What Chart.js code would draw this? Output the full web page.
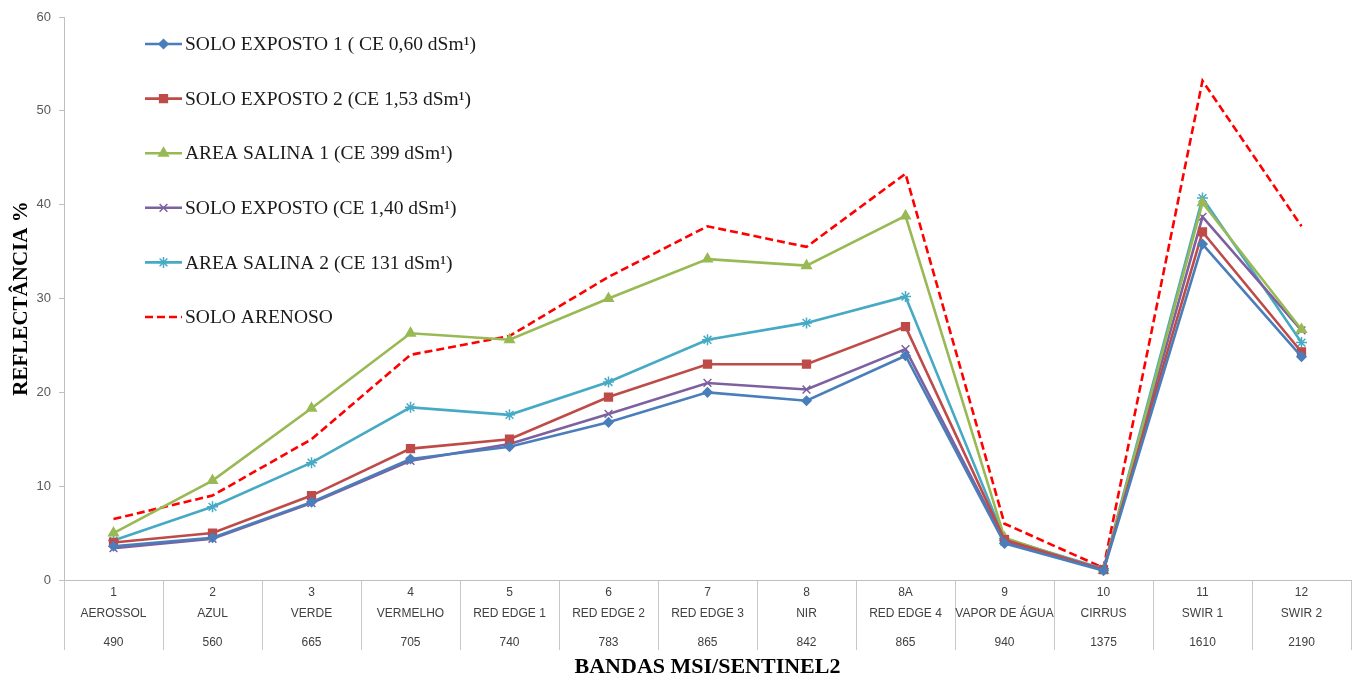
<!DOCTYPE html>
<html>
<head>
<meta charset="utf-8">
<script src="https://cdn.jsdelivr.net/npm/chart.js@4"></script>
<style>
  html, body { margin: 0; padding: 0; background: #ffffff; }
  #wrap { width: 1358px; height: 681px; }
</style>
</head>
<body>
<div id="wrap"><canvas id="c" width="1358" height="681"></canvas></div>
<script>
// Sentinel-2 MSI bands: number, name and wavelength (nm)
const bands = ['1', '2', '3', '4', '5', '6', '7', '8', '8A', '9', '10', '11', '12'];
const bandNames = ['AEROSSOL', 'AZUL', 'VERDE', 'VERMELHO', 'RED EDGE 1', 'RED EDGE 2', 'RED EDGE 3', 'NIR', 'RED EDGE 4', 'VAPOR DE ÁGUA', 'CIRRUS', 'SWIR 1', 'SWIR 2'];
const wavelengths = ['490', '560', '665', '705', '740', '783', '865', '842', '865', '940', '1375', '1610', '2190'];

// Reflectance (%) per band for each sample
const soloExposto1 = [3.6, 4.5, 8.3, 12.9, 14.2, 16.8, 20.0, 19.1, 23.9, 3.9, 1.0, 35.8, 23.8];
const soloExposto2 = [4.0, 5.0, 9.0, 14.0, 15.0, 19.5, 23.0, 23.0, 27.0, 4.3, 1.1, 37.1, 24.3];
const areaSalina1 = [5.0, 10.6, 18.3, 26.3, 25.6, 30.0, 34.2, 33.5, 38.8, 4.5, 1.0, 40.2, 26.7];
const soloExposto = [3.4, 4.4, 8.2, 12.7, 14.5, 17.7, 21.0, 20.3, 24.6, 4.1, 1.1, 38.7, 26.6];
const areaSalina2 = [4.2, 7.8, 12.5, 18.4, 17.6, 21.1, 25.6, 27.4, 30.2, 4.4, 1.2, 40.7, 25.3];
const soloArenoso = [6.5, 9.0, 15.0, 24.0, 26.0, 32.3, 37.7, 35.5, 43.3, 6.0, 1.3, 53.2, 37.7];

const yTicks = [0, 10, 20, 30, 40, 50, 60];

const seriesLabels = [
  'SOLO EXPOSTO 1 ( CE 0,60 dSm¹)',
  'SOLO EXPOSTO 2 (CE 1,53 dSm¹)',
  'AREA SALINA 1 (CE 399 dSm¹)',
  'SOLO EXPOSTO (CE 1,40 dSm¹)',
  'AREA SALINA 2 (CE 131 dSm¹)',
  'SOLO ARENOSO'
];

const tickFont = "'Liberation Sans Narrow', 'Liberation Sans', sans-serif";
const serif = "'Liberation Serif', 'Times New Roman', serif";

function series(label, data, color, style, radius, extra) {
  return Object.assign({
    label: label,
    data: data,
    borderColor: color,
    backgroundColor: color,
    pointBackgroundColor: color,
    pointBorderColor: color,
    borderWidth: 2.6,
    pointStyle: style,
    pointRadius: radius,
    pointBorderWidth: 1.5,
    tension: 0,
    fill: false
  }, extra || {});
}

// In-plot legend: line sample with its marker, then the label
const insideLegend = {
  id: 'insideLegend',
  afterDraw(chart) {
    const ctx = chart.ctx;
    const x0 = 145, x1 = 182, top = 44, step = 54.6;
    chart.data.datasets.forEach((ds, i) => {
      const y = top + i * step;
      ctx.save();
      ctx.strokeStyle = ds.borderColor;
      ctx.lineWidth = ds.borderWidth;
      ctx.setLineDash(ds.borderDash || []);
      ctx.beginPath();
      ctx.moveTo(x0, y);
      ctx.lineTo(x1, y);
      ctx.stroke();
      ctx.setLineDash([]);
      if (ds.pointRadius > 0) {
        ctx.fillStyle = ds.pointBackgroundColor;
        ctx.strokeStyle = ds.pointBorderColor;
        ctx.lineWidth = ds.pointBorderWidth;
        Chart.helpers.drawPoint(ctx, {
          pointStyle: ds.pointStyle, radius: ds.pointRadius, rotation: 0, borderWidth: ds.pointBorderWidth
        }, (x0 + x1) / 2, y);
      }
      ctx.fillStyle = '#1a1a1a';
      ctx.font = '19.5px ' + serif;
      ctx.textAlign = 'left';
      ctx.textBaseline = 'middle';
      ctx.fillText(ds.label, x1 + 3, y + 1);
      ctx.restore();
    });
  }
};

// Category table under the x axis: band number, band name, wavelength
const bandTable = {
  id: 'bandTable',
  afterDraw(chart) {
    const xs = chart.scales.x;
    const ctx = chart.ctx;
    const base = xs.top;
    ctx.save();
    ctx.fillStyle = '#404040';
    ctx.font = '12px ' + tickFont;
    ctx.textAlign = 'center';
    ctx.textBaseline = 'middle';
    bands.forEach((b, i) => {
      const x = xs.getPixelForTick(i);
      ctx.fillText(b, x, base + 13);
      ctx.fillText(bandNames[i], x, base + 34);
      ctx.fillText(wavelengths[i], x, base + 63);
    });
    ctx.restore();
  }
};

new Chart(document.getElementById('c'), {
  type: 'line',
  data: {
    labels: bands,
    datasets: [
      series(seriesLabels[0], soloExposto1, '#4A7EBB', 'rectRot', 4.5),
      series(seriesLabels[1], soloExposto2, '#BE4B48', 'rect', 5.5),
      series(seriesLabels[2], areaSalina1, '#98B954', 'triangle', 5.5),
      series(seriesLabels[3], soloExposto, '#7D60A0', 'crossRot', 5.5),
      series(seriesLabels[4], areaSalina2, '#46AAC5', 'star', 5.5),
      series(seriesLabels[5], soloArenoso, '#FF0000', 'circle', 0, { borderDash: [8, 4], borderWidth: 2.6 })
    ]
  },
  options: {
    responsive: false,
    animation: false,
    events: [],
    layout: { padding: { top: 17, right: 4, left: 0, bottom: 0 } },
    plugins: {
      legend: { display: false },
      tooltip: { enabled: false }
    },
    scales: {
      x: {
        type: 'category',
        offset: true,
        afterFit(scale) { scale.height = 101; },
        grid: {
          display: true,
          offset: true,
          drawOnChartArea: false,
          drawTicks: true,
          tickLength: 70,
          color: '#c8c8c8',
          lineWidth: 1
        },
        border: { display: true, color: '#bfbfbf', width: 1 },
        ticks: { display: false },
        title: {
          display: true,
          text: 'BANDAS MSI/SENTINEL2',
          color: '#000000',
          font: { family: serif, size: 22, weight: 'bold' },
          padding: { top: 0, bottom: 0 },
          align: 'center'
        }
      },
      y: {
        min: 0,
        max: 60,
        afterFit(scale) { scale.width = 64; },
        afterBuildTicks(scale) { scale.ticks = yTicks.map(v => ({ value: v })); },
        grid: {
          display: true,
          drawOnChartArea: false,
          drawTicks: true,
          tickLength: 5,
          color: '#bfbfbf'
        },
        border: { display: true, color: '#bfbfbf', width: 1 },
        ticks: {
          color: '#595959',
          font: { family: "'Liberation Sans', sans-serif", size: 13 },
          padding: 8
        },
        title: {
          display: true,
          text: 'REFLECTÂNCIA %',
          color: '#000000',
          font: { family: serif, size: 21, weight: 'bold' },
          padding: { top: 9, bottom: 0 }
        }
      }
    }
  },
  plugins: [insideLegend, bandTable]
});
</script>
</body>
</html>
